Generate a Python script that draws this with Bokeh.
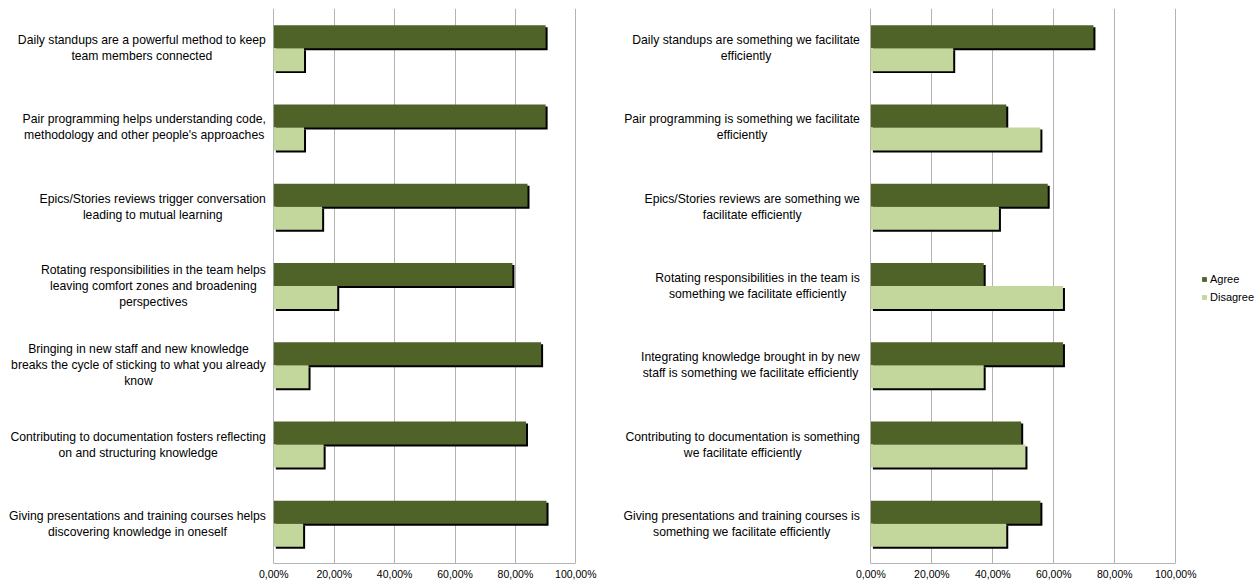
import numpy as np
from bokeh.plotting import figure
from bokeh.models import ColumnDataSource, Range1d, FixedTicker, Legend, LegendItem
from bokeh.layouts import row
from bokeh.core.properties import value
from bokeh.embed import file_html
from bokeh.resources import INLINE

# ---------------- data ----------------
left_labels = [
    "Daily standups are a powerful method to keep\nteam members connected",
    "Pair programming helps understanding code,\nmethodology and other people's approaches",
    "Epics/Stories reviews trigger conversation\nleading to mutual learning",
    "Rotating responsibilities in the team helps\nleaving comfort zones and broadening\nperspectives",
    "Bringing in new staff and new knowledge\nbreaks the cycle of sticking to what you already\nknow",
    "Contributing to documentation fosters reflecting\non and structuring knowledge",
    "Giving presentations and training courses helps\ndiscovering knowledge in oneself",
]
left_agree = [90.0, 90.0, 84.0, 79.0, 88.5, 83.5, 90.3]
left_disagree = [10.0, 10.0, 16.0, 21.0, 11.5, 16.5, 9.7]

right_labels = [
    "Daily standups are something we facilitate\nefficiently",
    "Pair programming is something we facilitate\nefficiently",
    "Epics/Stories reviews are something we\nfacilitate efficiently",
    "Rotating responsibilities in the team is\nsomething we facilitate efficiently",
    "Integrating knowledge brought in by new\nstaff is something we facilitate efficiently",
    "Contributing to documentation is something\nwe facilitate efficiently",
    "Giving presentations and training courses is\nsomething we facilitate efficiently",
]
right_agree = [73.0, 44.4, 58.0, 37.0, 63.0, 49.3, 55.6]
right_disagree = [27.0, 55.6, 42.0, 63.0, 37.0, 50.7, 44.4]

series_names = ["Agree", "Disagree"]
tick_values = [0, 20, 40, 60, 80, 100]
tick_labels = ["0,00%", "20,00%", "40,00%", "60,00%", "80,00%", "100,00%"]

# ---------------- style ----------------
AGREE = "#4F6228"
DISAGREE = "#C3D69B"
GRID = "#B4B4B4"
FONT = "Liberation Sans"
HEIGHT = 582
TOP = 8
BAR_H = 0.29


def make_panel(labels, agree, disagree, frame_w, x_range, gap, legend_pos=None):
    n = len(labels)
    idx = np.arange(n, dtype=float)
    agree = np.asarray(agree, dtype=float)
    disagree = np.asarray(disagree, dtype=float)

    p = figure(frame_width=frame_w, height=HEIGHT,
               x_range=Range1d(*x_range), y_range=Range1d(n - 0.5, -0.5),
               output_backend="svg", toolbar_location=None,
               min_border_left=0, min_border_top=TOP, min_border_bottom=0,
               min_border_right=0)
    p.outline_line_color = None
    p.background_fill_color = "white"
    p.border_fill_color = "white"

    px_per_unit = frame_w / (x_range[1] - x_range[0])
    dx = 2.0 / px_per_unit
    dy = 2.0 / (558.0 / n)

    src = ColumnDataSource(dict(
        y=idx, ya=idx - BAR_H / 2, yd=idx + BAR_H / 2,
        ya_s=idx - BAR_H / 2 + dy, yd_s=idx + BAR_H / 2 + dy,
        agree=agree, disagree=disagree,
        agree_s=agree + dx, disagree_s=disagree + dx,
        label=labels,
    ))

    # shadows
    p.hbar(y="ya_s", height=BAR_H, left=dx, right="agree_s", source=src,
           fill_color="black", line_color=None)
    p.hbar(y="yd_s", height=BAR_H, left=dx, right="disagree_s", source=src,
           fill_color="black", line_color=None)
    # bars
    ra = p.hbar(y="ya", height=BAR_H, left=0, right="agree", source=src,
                fill_color=AGREE, line_color=None)
    rd = p.hbar(y="yd", height=BAR_H, left=0, right="disagree", source=src,
                fill_color=DISAGREE, line_color=None)

    # category labels
    p.text(x=0, y="y", text="label", source=src, x_offset=-gap,
           anchor=value("center_right"), text_align="center", text_baseline="middle",
           text_font=value(FONT), text_font_size="12.2px", text_color="#000000",
           text_line_height=1.15)

    p.yaxis.visible = False
    p.ygrid.visible = False
    p.xgrid.grid_line_color = GRID
    p.xaxis.ticker = FixedTicker(ticks=tick_values)
    p.xaxis.bounds = (0, 100)
    p.xaxis.major_label_overrides = {v: t for v, t in zip(tick_values, tick_labels)}
    p.xaxis.major_tick_out = 0
    p.xaxis.major_tick_in = 0
    p.xaxis.minor_tick_line_color = None
    p.xaxis.axis_line_color = GRID
    p.xaxis.major_label_standoff = 4
    p.xaxis.major_label_text_font = FONT
    p.xaxis.major_label_text_font_size = "10.5px"
    p.xaxis.major_label_text_color = "#000000"

    if legend_pos is not None:
        lg = Legend(items=[LegendItem(label=series_names[0], renderers=[ra]),
                           LegendItem(label=series_names[1], renderers=[rd])],
                    location=legend_pos,
                    border_line_color=None, background_fill_alpha=0,
                    glyph_width=6, glyph_height=6, label_standoff=3,
                    label_height=13, spacing=5, padding=0, margin=0,
                    label_text_font=FONT, label_text_font_size="11px",
                    label_text_color="#000000")
        p.add_layout(lg)
    return p


p1 = make_panel(left_labels, left_agree, left_disagree,
                frame_w=600, x_range=(-90.5, 108.17), gap=8)
p2 = make_panel(right_labels, right_agree, right_disagree,
                frame_w=660, x_range=(-88.7, 127.8), gap=11, legend_pos=(601, 260))

layout = row(p1, p2)
open("out.html", "w").write(file_html(layout, INLINE))
